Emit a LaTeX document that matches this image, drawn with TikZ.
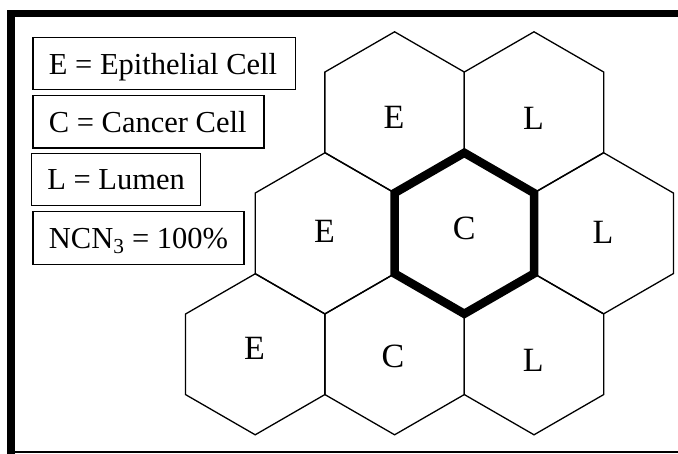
\documentclass[tikz,border=0pt]{standalone}
\usepackage{fontspec}
\setmainfont{Liberation Serif}
\usetikzlibrary{shapes.geometric}
\begin{document}
\begin{tikzpicture}[x=1pt,y=-1pt,
  hexcell/.style={draw, line width=1.3pt, regular polygon, regular polygon sides=6,
    shape border rotate=30, minimum size=161pt, inner sep=0pt, outer sep=0pt},
  hexthick/.style={hexcell, line width=8.5pt},
  celltext/.style={font=\fontsize{34}{40}\selectfont, inner sep=0pt, text depth=0pt},
  legendbox/.style={draw, line width=1.3pt, anchor=north west, inner xsep=16pt, inner ysep=0pt,
    minimum height=52.5pt, text depth=0pt, font=\fontsize{30.5}{36}\selectfont},
  framethick/.style={line width=7.8pt},
  framethin/.style={line width=1.7pt}]
\useasboundingbox (0,0) rectangle (678,454);
% frame
\draw[framethick] (11,460) -- (11,13.6) -- (690,13.6);
\draw[framethin] (15,452) -- (690,452);
% hexagons on a regular lattice (dx = 139.4, dy = 121)
\node[hexcell] (hTopE) at (394.6,112.3) {};
\node[hexcell] (hTopL) at (534,112.3) {};
\node[hexcell] (hMidE) at (324.9,233.3) {};
\node[hexcell] (hMidL) at (603.7,233.3) {};
\node[hexcell] (hBotE) at (255.2,354.3) {};
\node[hexcell] (hBotC) at (394.6,354.3) {};
\node[hexcell] (hBotL) at (534,354.3) {};
\node[hexthick] (hC) at (464.3,233.3) {};
% cell labels
\node[celltext] (tTopE) at (394,117.5) {E};
\node[celltext] (tTopL) at (533.5,118) {L};
\node[celltext] (tMidE) at (324.5,231.7) {E};
\node[celltext] (tC) at (464.2,228) {C};
\node[celltext] (tMidL) at (603,232) {L};
\node[celltext] (tBotE) at (254.5,348) {E};
\node[celltext] (tBotC) at (393,355.8) {C};
\node[celltext] (tBotL) at (533.3,360.3) {L};
% legend
\node[legendbox] (lgE) at (32.3,36.7) {\makebox[230.4pt][l]{E = Epithelial Cell}};
\node[legendbox] (lgC) at (32.3,95) {\makebox[199pt][l]{C = Cancer Cell}};
\node[legendbox] (lgL) at (30.7,152.7) {\makebox[137.3pt][l]{L = Lumen}};
\node[legendbox, minimum height=53.3pt] (lgN) at (32.3,210.7) {\makebox[179pt][l]{NCN\textsubscript{3} = 100\%}};
\end{tikzpicture}
\end{document}
